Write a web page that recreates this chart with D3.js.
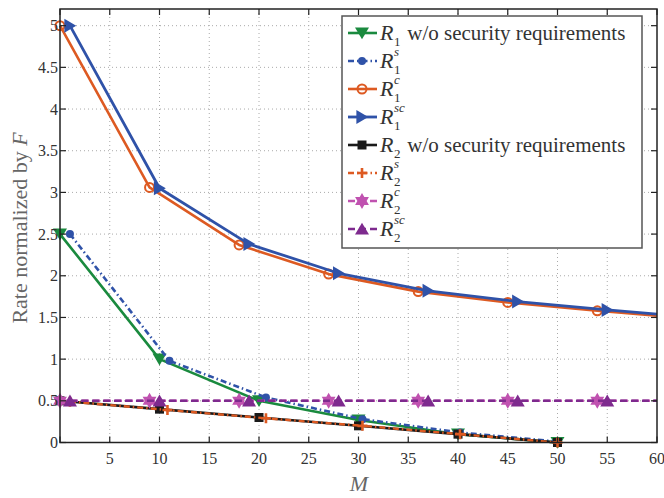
<!DOCTYPE html>
<html>
<head>
<meta charset="utf-8">
<script src="https://cdn.jsdelivr.net/npm/d3@7"></script>
<style>
  body { margin: 0; background: white; }
  svg { font-family: "Liberation Serif", "DejaVu Serif", serif; }
</style>
</head>
<body>
<div id="chart"></div>
<script>
var width = 664;
var height = 498;

// x positions (M) and values
var M_R1 = [0, 10, 20, 30, 40, 50];
var R1 = [2.5, 1.0, 0.5, 0.27, 0.1, 0];
var M_R1s = [1, 11, 20.7, 30.4, 40.2, 50];
var R1s = [2.5, 0.98, 0.54, 0.28, 0.12, 0.01];
var M_R1c = [0, 9, 18, 27, 36, 45, 54, 60];
var R1c = [5.0, 3.06, 2.37, 2.02, 1.81, 1.68, 1.58, 1.52];
var M_R1sc = [1, 10, 19, 28, 37, 46, 55, 60];
var R1sc = [5.0, 3.05, 2.38, 2.03, 1.82, 1.69, 1.59, 1.54];
var M_R2 = [0, 10, 20, 30, 40, 50];
var R2 = [0.5, 0.4, 0.3, 0.2, 0.1, 0];
var M_R2s = [1, 10.8, 20.7, 30.4, 40.2, 50];
var R2s = [0.49, 0.39, 0.29, 0.2, 0.1, 0];
var M_R2c = [0, 9, 18, 27, 36, 45, 54, 60];
var R2c = [0.5, 0.5, 0.5, 0.5, 0.5, 0.5, 0.5, 0.5];
var M_R2sc = [1, 10, 19, 28, 37, 46, 55, 60];
var R2sc = [0.5, 0.5, 0.5, 0.5, 0.5, 0.5, 0.5, 0.5];

var xTicks = [0, 5, 10, 15, 20, 25, 30, 35, 40, 45, 50, 55, 60];
var xTickLabels = ["", "5", "10", "15", "20", "25", "30", "35", "40", "45", "50", "55", "60"];
var yTicks = [0, 0.5, 1, 1.5, 2, 2.5, 3, 3.5, 4, 4.5, 5];
var yTickLabels = ["0", "0.5", "1", "1.5", "2", "2.5", "3", "3.5", "4", "4.5", "5"];

// legend: [base, subscript, superscript, trailing text]
var legendLabels = [
  ["R", "1", "", " w/o security requirements"],
  ["R", "1", "s", ""],
  ["R", "1", "c", ""],
  ["R", "1", "sc", ""],
  ["R", "2", "", " w/o security requirements"],
  ["R", "2", "s", ""],
  ["R", "2", "c", ""],
  ["R", "2", "sc", ""]
];

function zip(ms, vs) {
  return ms.map(function (m, i) { return [m, vs[i]]; });
}

var series = [
  { data: zip(M_R1, R1), color: "#1a8a3e", dash: null, marker: "tridown", lw: 2.6 },
  { data: zip(M_R1s, R1s), color: "#2f52a8", dash: "6,3,1.5,3", marker: "dot", lw: 2.6 },
  { data: zip(M_R1c, R1c), color: "#dd5a22", dash: null, marker: "ring", lw: 2.6 },
  { data: zip(M_R1sc, R1sc), color: "#2f52a8", dash: null, marker: "triright", lw: 2.8 },
  { data: zip(M_R2, R2), color: "#1a1a1a", dash: null, marker: "square", lw: 2.6 },
  { data: zip(M_R2s, R2s), color: "#dd5a22", dash: "6,3,1.5,3", marker: "plus", lw: 2.4 },
  { data: zip(M_R2c, R2c), color: "#c052b0", dash: "7,4", marker: "hexagram", lw: 2.6 },
  { data: zip(M_R2sc, R2sc), color: "#7e2a8e", dash: "7,4", marker: "triup", lw: 2.6 }
];

var x = d3.scaleLinear().domain([0, 60]).range([60, 657]);
var y = d3.scaleLinear().domain([0, 5.2]).range([442.5, 9]);

var svg = d3.select("#chart").append("svg")
  .attr("width", width)
  .attr("height", height);

// grid
svg.append("g")
  .selectAll("line.vg")
  .data(xTicks.slice(1, -1))
  .join("line")
  .attr("x1", function (d) { return x(d); })
  .attr("x2", function (d) { return x(d); })
  .attr("y1", y(5.2))
  .attr("y2", y(0))
  .attr("stroke", "#aaa")
  .attr("stroke-width", 1)
  .attr("stroke-dasharray", "1,3");

svg.append("g")
  .selectAll("line.hg")
  .data(yTicks.slice(1))
  .join("line")
  .attr("x1", x(0))
  .attr("x2", x(60))
  .attr("y1", function (d) { return y(d); })
  .attr("y2", function (d) { return y(d); })
  .attr("stroke", "#aaa")
  .attr("stroke-width", 1)
  .attr("stroke-dasharray", "1,3");

function markerPath(type, s) {
  var p = d3.path();
  var a, i;
  if (type == "tridown") {
    p.moveTo(-s, -s * 0.8); p.lineTo(s, -s * 0.8); p.lineTo(0, s * 0.9); p.closePath();
  } else if (type == "triup") {
    p.moveTo(-s, s * 0.8); p.lineTo(s, s * 0.8); p.lineTo(0, -s * 0.9); p.closePath();
  } else if (type == "triright") {
    p.moveTo(-s * 0.8, -s); p.lineTo(-s * 0.8, s); p.lineTo(s * 0.9, 0); p.closePath();
  } else if (type == "square") {
    p.rect(-s * 0.75, -s * 0.75, s * 1.5, s * 1.5);
  } else if (type == "hexagram") {
    for (var k = 0; k < 2; k++) {
      for (i = 0; i < 3; i++) {
        a = ((k == 0 ? -90 : 90) + i * 120) * Math.PI / 180;
        if (i == 0) p.moveTo(s * Math.cos(a), s * Math.sin(a));
        else p.lineTo(s * Math.cos(a), s * Math.sin(a));
      }
      p.closePath();
    }
  }
  return p.toString();
}

function drawMarker(g, type, color) {
  if (type == "dot") {
    g.append("circle").attr("r", 4).attr("fill", color);
  } else if (type == "ring") {
    g.append("circle").attr("r", 4.5).attr("fill", "none")
      .attr("stroke", color).attr("stroke-width", 2);
  } else if (type == "plus") {
    g.append("path").attr("d", "M-5,0H5M0,-5V5")
      .attr("stroke", color).attr("stroke-width", 2.6).attr("fill", "none");
  } else {
    var s = type == "square" ? 6 : (type == "hexagram" ? 8 : 7);
    g.append("path").attr("d", markerPath(type, s)).attr("fill", color);
  }
}

var line = d3.line()
  .x(function (d) { return x(d[0]); })
  .y(function (d) { return y(d[1]); });

series.forEach(function (s) {
  var g = svg.append("g");
  g.append("path")
    .attr("d", line(s.data))
    .attr("fill", "none")
    .attr("stroke", s.color)
    .attr("stroke-width", s.lw)
    .attr("stroke-linejoin", "round")
    .attr("stroke-dasharray", s.dash);
  g.selectAll("g.mk")
    .data(s.data.filter(function (d) { return d[0] < 60; }))
    .join("g")
    .attr("transform", function (d) { return "translate(" + x(d[0]) + "," + y(d[1]) + ")"; })
    .each(function () { drawMarker(d3.select(this), s.marker, s.color); });
});

// axes box
svg.append("rect")
  .attr("x", x(0)).attr("y", y(5.2))
  .attr("width", x(60) - x(0)).attr("height", y(0) - y(5.2))
  .attr("fill", "none").attr("stroke", "#222").attr("stroke-width", 1.5);

// inward ticks on all sides
var tk = svg.append("g").attr("stroke", "#222").attr("stroke-width", 1.2);
xTicks.forEach(function (t) {
  tk.append("line").attr("x1", x(t)).attr("x2", x(t)).attr("y1", y(0)).attr("y2", y(0) - 6);
  tk.append("line").attr("x1", x(t)).attr("x2", x(t)).attr("y1", y(5.2)).attr("y2", y(5.2) + 6);
});
yTicks.forEach(function (t) {
  tk.append("line").attr("x1", x(0)).attr("x2", x(0) + 6).attr("y1", y(t)).attr("y2", y(t));
  tk.append("line").attr("x1", x(60)).attr("x2", x(60) - 6).attr("y1", y(t)).attr("y2", y(t));
});

// tick labels
svg.append("g")
  .selectAll("text")
  .data(xTicks)
  .join("text")
  .attr("x", function (d) { return x(d); })
  .attr("y", 464)
  .attr("text-anchor", "middle")
  .attr("font-size", 16)
  .attr("fill", "#333")
  .text(function (d, i) { return xTickLabels[i]; });

svg.append("g")
  .selectAll("text")
  .data(yTicks)
  .join("text")
  .attr("x", 58)
  .attr("y", function (d) { return y(d) + 5.5; })
  .attr("text-anchor", "end")
  .attr("font-size", 16)
  .attr("fill", "#333")
  .text(function (d, i) { return yTickLabels[i]; });

// axis titles
var yl = svg.append("text")
  .attr("transform", "translate(27,228) rotate(-90)")
  .attr("text-anchor", "middle")
  .attr("font-size", 22)
  .attr("fill", "#666");
yl.append("tspan").text("Rate normalized by ");
yl.append("tspan").attr("font-style", "italic").text("F");

svg.append("text")
  .attr("x", 359)
  .attr("y", 491)
  .attr("text-anchor", "middle")
  .attr("font-size", 22)
  .attr("font-style", "italic")
  .attr("fill", "#666")
  .text("M");

// legend
var legend = svg.append("g");
legend.append("rect")
  .attr("x", 342).attr("y", 16)
  .attr("width", 300).attr("height", 232)
  .attr("fill", "white").attr("stroke", "#555").attr("stroke-width", 1.5);

legendLabels.forEach(function (lab, i) {
  var s = series[i];
  var cy = 33 + i * 28;
  var row = legend.append("g");
  row.append("line")
    .attr("x1", 348).attr("x2", 377).attr("y1", cy).attr("y2", cy)
    .attr("stroke", s.color).attr("stroke-width", s.lw)
    .attr("stroke-dasharray", s.dash);
  var mg = row.append("g").attr("transform", "translate(362," + cy + ")");
  drawMarker(mg, s.marker, s.color);

  var base = cy + 7;
  row.append("text").attr("x", 380).attr("y", base)
    .attr("font-size", 22).attr("font-style", "italic").attr("fill", "#333")
    .text(lab[0]);
  // sub and superscript stacked after the R
  row.append("text").attr("x", 394).attr("y", base + 6)
    .attr("font-size", 13).attr("fill", "#333")
    .text(lab[1]);
  if (lab[2] != "") {
    row.append("text").attr("x", 394).attr("y", base - 12)
      .attr("font-size", 13).attr("font-style", "italic").attr("fill", "#333")
      .text(lab[2]);
  }
  if (lab[3] != "") {
    row.append("text").attr("x", 402).attr("y", base)
      .attr("font-size", 21).attr("fill", "#333")
      .attr("xml:space", "preserve")
      .text(lab[3]);
  }
});
</script>
</body>
</html>
